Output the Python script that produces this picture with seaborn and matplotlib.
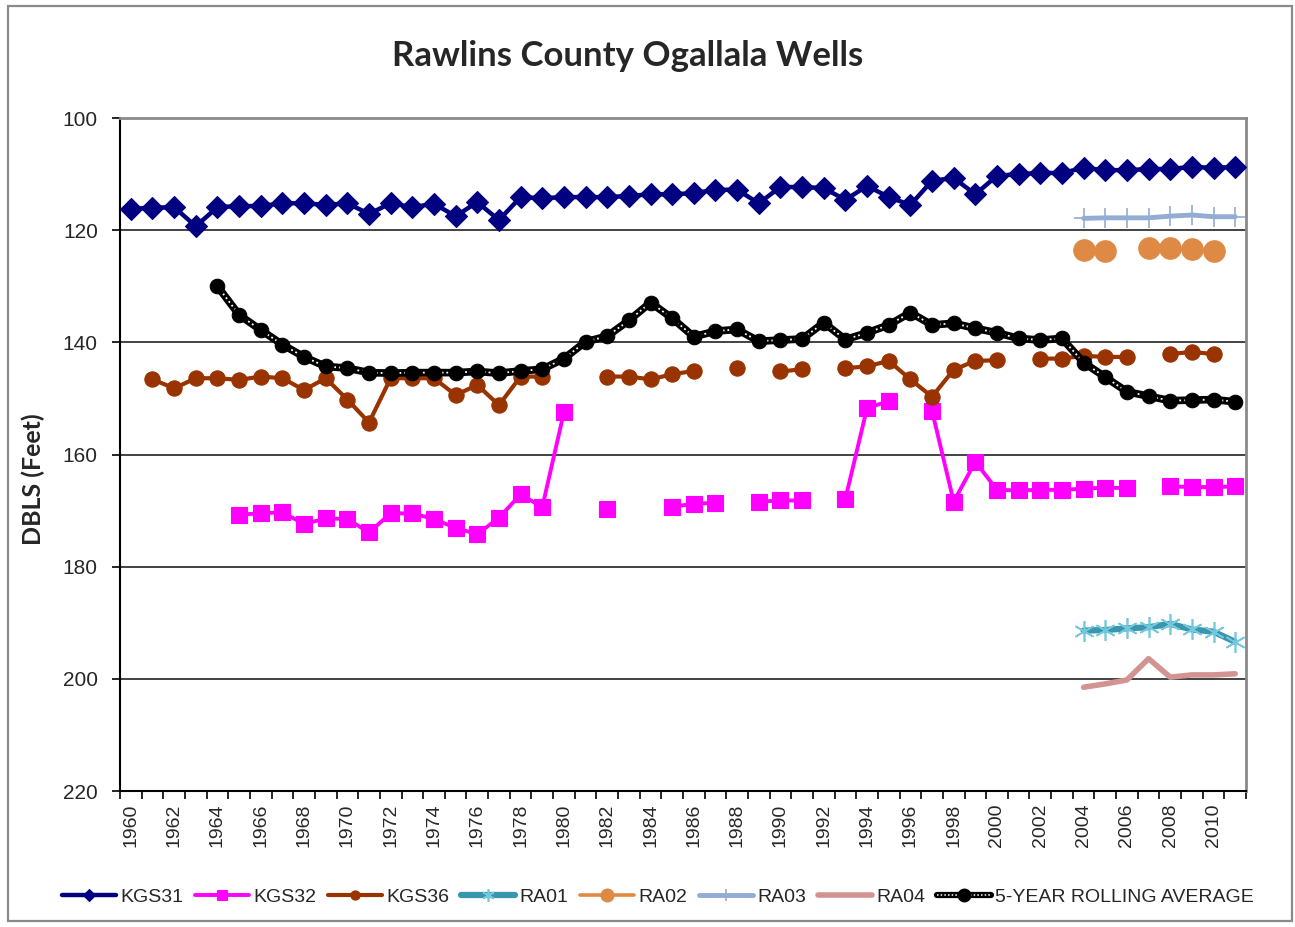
import numpy as np
import pandas as pd
import matplotlib
matplotlib.use("Agg")
import matplotlib.pyplot as plt
from matplotlib.lines import Line2D
from matplotlib.patches import Rectangle
import seaborn as sns

nan = np.nan
years = list(range(1960, 2012))

kgs31 = [116.2, 116.0, 115.9, 119.3, 115.9, 115.7, 115.7, 115.2, 115.2, 115.5,
         115.2, 117.1, 115.2, 115.9, 115.3, 117.5, 115.0, 118.2, 114.1, 114.3,
         114.1, 114.1, 114.1, 113.9, 113.6, 113.6, 113.4, 112.8, 112.8, 115.2,
         112.3, 112.3, 112.5, 114.6, 112.1, 114.1, 115.5, 111.2, 110.7, 113.6,
         110.3, 110.0, 109.8, 109.8, 108.9, 109.3, 109.3, 109.1, 109.1, 108.7,
         108.9, 108.7]
kgs32 = [nan, nan, nan, nan, nan, 170.7, 170.5, 170.3, 172.4, 171.4,
         171.5, 173.9, 170.5, 170.5, 171.5, 173.1, 174.2, 171.3, 167.1, 169.4,
         152.5, nan, 169.8, nan, nan, 169.3, 168.8, 168.6, nan, 168.4,
         168.2, 168.2, nan, 167.9, 151.7, 150.5, nan, 152.2, 168.4, 161.3,
         166.3, 166.4, 166.3, 166.3, 166.1, 165.9, 166.0, nan, 165.7, 165.8,
         165.8, 165.7]
kgs36 = [nan, 146.6, 148.2, 146.4, 146.4, 146.7, 146.1, 146.4, 148.5, 146.4,
         150.2, 154.3, 146.4, 146.4, 146.4, 149.4, 147.6, 151.2, 146.1, 146.1,
         nan, nan, 146.1, 146.1, 146.6, 145.7, 145.1, nan, 144.5, nan,
         145.2, 144.8, nan, 144.6, 144.3, 143.3, 146.6, 149.7, 144.9, 143.3,
         143.2, nan, 142.9, 142.9, 142.4, 142.6, 142.6, nan, 142.1, 141.7,
         142.1, nan]
ra_years = list(range(2004, 2012))
ra01 = [191.4, 191.3, 191.0, 190.8, 190.2, 191.2, 191.6, 193.4]
ra02 = [123.5, 123.8, nan, 123.2, 123.2, 123.4, 123.8, nan]
ra03 = [117.9, 117.8, 117.8, 117.8, 117.5, 117.3, 117.6, 117.6]
ra04 = [201.5, 200.9, 200.2, 196.4, 199.7, 199.3, 199.3, 199.1]
rolling = [nan, nan, nan, nan, 130.0, 135.1, 137.8, 140.4, 142.6, 144.3,
           144.6, 145.4, 145.5, 145.4, 145.4, 145.4, 145.2, 145.5, 145.1, 144.8,
           142.9, 139.9, 138.9, 136.1, 132.9, 135.7, 139.0, 138.0, 137.7, 139.8,
           139.6, 139.4, 136.5, 139.5, 138.3, 136.9, 134.7, 136.9, 136.6, 137.5,
           138.3, 139.3, 139.6, 139.3, 143.6, 146.2, 148.8, 149.6, 150.4, 150.3,
           150.2, 150.6]

names = ["KGS31", "KGS32", "KGS36", "RA01", "RA02", "RA03", "RA04",
         "5-YEAR ROLLING AVERAGE"]
y_ticks = [100, 120, 140, 160, 180, 200, 220]

sns.set_theme(style="white")
plt.rcParams['font.family'] = ['Liberation Sans', 'DejaVu Sans']


def segments(yrs, vals):
    """Split a series into contiguous runs (breaks at missing values)."""
    rows = []
    seg = 0
    prev_nan = True
    for y, v in zip(yrs, vals):
        if v is None or (isinstance(v, float) and np.isnan(v)):
            prev_nan = True
            continue
        if prev_nan:
            seg += 1
        prev_nan = False
        rows.append({"x": y - 1960, "val": v, "seg": seg})
    return pd.DataFrame(rows)


fig = plt.figure(figsize=(12.95, 9.27), dpi=100)
ax = fig.add_axes([120 / 1295, 1 - 791 / 927, (1246 - 120) / 1295, (791 - 118) / 927])

# outer border
fig.patches.append(Rectangle((8 / 1295, 6 / 927), (1292 - 8) / 1295, (921 - 6) / 927,
                             transform=fig.transFigure, fill=False,
                             edgecolor='#8a8a8a', linewidth=1.6))

styles = {
    "KGS31": dict(color='#000080', lw=3.2, marker='D', ms=11, mec='#000080'),
    "KGS32": dict(color='#FF00FF', lw=2.8, marker='s', ms=11, mec='#FF00FF'),
    "KGS36": dict(color='#993300', lw=3.0, marker='o', ms=11, mec='#993300'),
    "RA01": dict(color='#3A96AC', lw=4.5, marker=(6, 2, 0), ms=15, mec='#72C8DC', mew=1.2),
    "RA02": dict(color='#DE8A44', lw=2.6, marker='o', ms=15.5, mec='#DE8A44'),
    "RA03": dict(color='#93ACD4', lw=3.5, marker='+', ms=15, mec='#93ACD4', mew=1.2),
    "RA04": dict(color='#D39393', lw=4.0, marker=None, ms=0, mec='#D39393'),
}

series = [("KGS31", years, kgs31), ("KGS32", years, kgs32), ("KGS36", years, kgs36),
          ("RA01", ra_years, ra01), ("RA02", ra_years, ra02), ("RA03", ra_years, ra03),
          ("RA04", ra_years, ra04)]

z = 3
for name, yrs, vals in series:
    st = styles[name]
    df = segments(yrs, vals)
    kw = dict(color=st['color'], linewidth=st['lw'])
    if st['marker'] is not None:
        kw.update(marker=st['marker'], markersize=st['ms'], markeredgecolor=st['mec'],
                  markerfacecolor=st['color'] if name != "RA01" else st['mec'],
                  markeredgewidth=st.get('mew', 0.8))
    sns.lineplot(data=df, x="x", y="val", units="seg", estimator=None, sort=True,
                 ax=ax, legend=False, zorder=z, **kw)
    z += 1

# rolling average: black chain line with white dots, black circles
dfr = segments(years, rolling)
sns.lineplot(data=dfr, x="x", y="val", units="seg", estimator=None, ax=ax,
             legend=False, color='black', linewidth=5.5, zorder=z)
sns.lineplot(data=dfr, x="x", y="val", units="seg", estimator=None, ax=ax,
             legend=False, color='white', linewidth=1.3, linestyle=(0, (1, 1.6)),
             zorder=z + 1)
sns.lineplot(data=dfr, x="x", y="val", units="seg", estimator=None, ax=ax,
             legend=False, color='black', linestyle='none', marker='o',
             markersize=10.5, markeredgecolor='black', zorder=z + 2)

# axes
ax.set_xlim(-0.5, len(years) - 0.5)
ax.set_ylim(220, 100)
ax.set_yticks(y_ticks)
ax.set_yticklabels([str(v) for v in y_ticks], fontsize=15)
major = list(range(0, len(years), 2))
ax.set_xticks(major)
ax.set_xticklabels([str(years[i]) for i in major], rotation=90, fontsize=14)
ax.set_xticks(np.arange(-0.5, len(years), 1.0), minor=True)
ax.tick_params(axis='x', which='major', length=0, pad=9)
ax.tick_params(axis='x', which='minor', length=6, width=1.2, color='black', direction='out',
               bottom=True)
ax.tick_params(axis='y', which='major', length=6, width=1.2, color='black', direction='out',
               left=True, pad=10)
ax.set_xlabel("")
ax.set_ylabel("DBLS (Feet)", fontsize=18, fontweight='bold', family=['Lato', 'DejaVu Sans'])
ax.yaxis.set_label_coords((45 - 120) / 1126, 1 - (479 - 118) / 673)
ax.yaxis.grid(True, color='#222222', linewidth=1.2)
ax.xaxis.grid(False)
for side in ['left', 'bottom']:
    ax.spines[side].set_color('black')
    ax.spines[side].set_linewidth(1.5)
for side in ['top', 'right']:
    ax.spines[side].set_color('#8a8a8a')
    ax.spines[side].set_linewidth(2.0)
    ax.spines[side].set_visible(True)

fig.text(0.485, 1 - 56 / 927, "Rawlins County Ogallala Wells", ha='center', va='center',
         fontsize=25, fontweight='bold', family=['Lato', 'DejaVu Sans'])

# legend
handles = []
for name, _, _ in series:
    st = styles[name]
    if st['marker'] is None:
        handles.append(Line2D([], [], color=st['color'], lw=st['lw']))
    else:
        handles.append(Line2D([], [], color=st['color'], lw=st['lw'], marker=st['marker'],
                              ms=st['ms'] * 0.6, mec=st['mec'],
                              mfc=st['color'] if name != "RA01" else st['mec'],
                              mew=st.get('mew', 0.8)))
handles.append((Line2D([], [], color='black', lw=4.5),
                Line2D([], [], color='white', lw=1.1, linestyle=(0, (1, 1.4))),
                Line2D([], [], color='black', lw=0, marker='o', ms=9)))
fig.legend(handles, names, loc='center', bbox_to_anchor=(0.508, 1 - 897 / 927), ncol=8,
           frameon=False, fontsize=14, handlelength=2.8, handletextpad=0.2,
           columnspacing=0.6)

fig.savefig("out.png", dpi=100)
